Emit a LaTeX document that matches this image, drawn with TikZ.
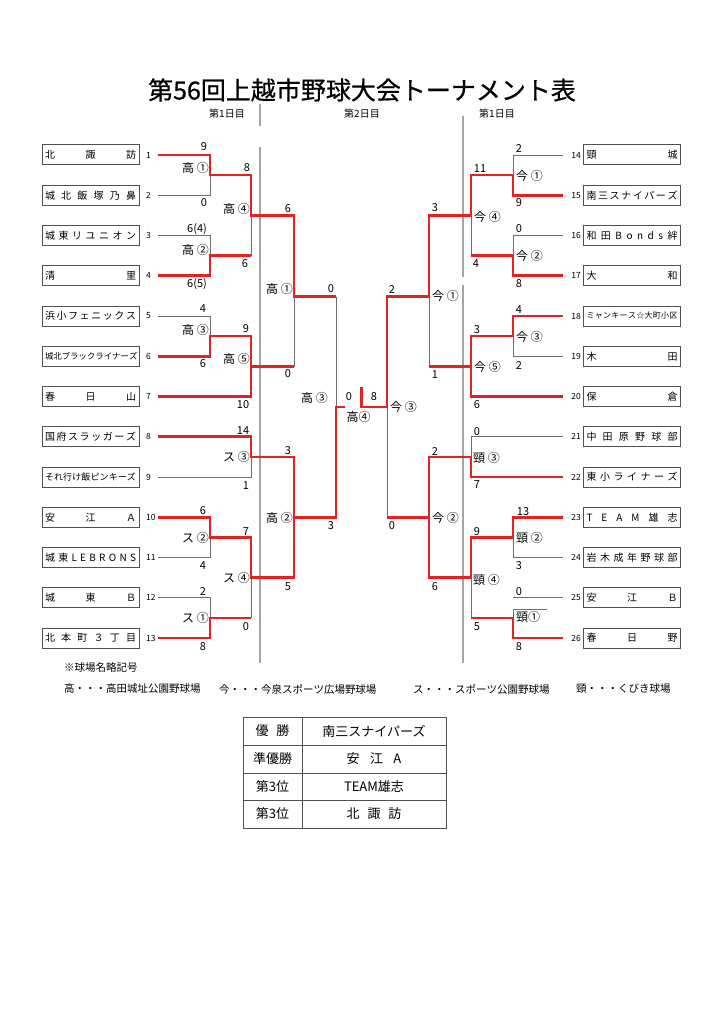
\documentclass[tikz,border=0pt]{standalone}
\usepackage{fontspec}
\setmainfont{Noto Sans CJK JP}
\newfontfamily\titlefont{Noto Sans CJK JP}[FakeBold=0.6]
\usetikzlibrary{positioning}

\definecolor{bracketred}{RGB}{225,35,35}
\definecolor{linegray}{RGB}{110,110,110}
\definecolor{boxgray}{RGB}{80,80,80}
\definecolor{divgray}{RGB}{165,165,165}

% spread the characters of a team name over the box
\makeatletter
\newcommand\spreadname[2][91pt]{\hbox to #1{\@tfor\nmchar:=#2\do{\nmchar\hfill}\unskip}}
\makeatother

\tikzset{
  win/.style={draw=bracketred, line width=2.6pt},
  lose/.style={draw=linegray, line width=0.9pt},
  divider/.style={draw=divgray, line width=1.3pt},
  team/.style={draw=boxgray, fill=white, line width=1pt, minimum width=97pt, minimum height=20pt, inner sep=0pt, font=\fontsize{10}{12}\selectfont},
  seedno/.style={inner sep=0pt, font=\fontsize{8.5}{9}\selectfont},
  score/.style={inner sep=0pt, font=\fontsize{11}{12}\selectfont},
  venue/.style={inner sep=0pt, font=\fontsize{12}{13}\selectfont},
  keytext/.style={inner sep=0pt, anchor=west, font=\fontsize{10.5}{12}\selectfont},
  cell/.style={inner sep=0pt, font=\fontsize{13}{15}\selectfont},
}

\begin{document}
\begin{tikzpicture}[x=1pt,y=-1pt]
\path[fill=white,use as bounding box] (0,0) rectangle (724,1024);

% title and day headers
\node (title) at (362,90) {\titlefont\fontsize{25}{30}\selectfont 第56回上越市野球大会トーナメント表};
\node[inner sep=0pt, font=\fontsize{10}{12}\selectfont] (dayL) at (227,114) {第1日目};
\node[inner sep=0pt, font=\fontsize{10}{12}\selectfont] (dayC) at (362,114) {第2日目};
\node[inner sep=0pt, font=\fontsize{10}{12}\selectfont] (dayR) at (497,114) {第1日目};
\draw[divider] (260,104) -- (260,126);
\draw[divider] (260,147) -- (260,663);
\draw[divider] (463,116) -- (463,277);
\draw[divider] (463,285) -- (463,663);

% teams, left
\node[team] (t1) at (90.5,155) {\spreadname{北諏訪}};
\node[team] (t2) at (90.5,195.25) {\spreadname{城北飯塚乃鼻}};
\node[team] (t3) at (90.5,235.5) {\spreadname{城東リユニオン}};
\node[team] (t4) at (90.5,275.75) {\spreadname{清里}};
\node[team] (t5) at (90.5,316) {\spreadname{浜小フェニックス}};
\node[team, font=\fontsize{8.4}{10}\selectfont] (t6) at (90.5,356.25) {\spreadname{城北ブラックライナーズ}};
\node[team] (t7) at (90.5,396.5) {\spreadname{春日山}};
\node[team] (t8) at (90.5,436.75) {\spreadname{国府スラッガーズ}};
\node[team, font=\fontsize{9}{10}\selectfont] (t9) at (90.5,477) {\spreadname{それ行け飯ピンキーズ}};
\node[team] (t10) at (90.5,517.25) {\spreadname{安江Ａ}};
\node[team] (t11) at (90.5,557.5) {\spreadname{城東LEBRONS}};
\node[team] (t12) at (90.5,597.75) {\spreadname{城東Ｂ}};
\node[team] (t13) at (90.5,638) {\spreadname{北本町３丁目}};

% teams, right
\node[team] (t14) at (632,155) {\spreadname{頸城}};
\node[team] (t15) at (632,195.25) {\spreadname{南三スナイパーズ}};
\node[team] (t16) at (632,235.5) {\spreadname{和田Bonds絆}};
\node[team] (t17) at (632,275.75) {\spreadname{大和}};
\node[team, font=\fontsize{8}{9}\selectfont] (t18) at (632,316) {\spreadname{ミャンキース☆大町小区}};
\node[team] (t19) at (632,356.25) {\spreadname{木田}};
\node[team] (t20) at (632,396.5) {\spreadname{保倉}};
\node[team] (t21) at (632,436.75) {\spreadname{中田原野球部}};
\node[team] (t22) at (632,477) {\spreadname{東小ライナーズ}};
\node[team] (t23) at (632,517.25) {\spreadname{TEAM雄志}};
\node[team] (t24) at (632,557.5) {\spreadname{岩木成年野球部}};
\node[team] (t25) at (632,597.75) {\spreadname{安江Ｂ}};
\node[team] (t26) at (632,638) {\spreadname{春日野}};

% draw numbers
\node[seedno, anchor=west] (n1) at (146,155) {1};
\node[seedno, anchor=west] (n2) at (146,195.25) {2};
\node[seedno, anchor=west] (n3) at (146,235.5) {3};
\node[seedno, anchor=west] (n4) at (146,275.75) {4};
\node[seedno, anchor=west] (n5) at (146,316) {5};
\node[seedno, anchor=west] (n6) at (146,356.25) {6};
\node[seedno, anchor=west] (n7) at (146,396.5) {7};
\node[seedno, anchor=west] (n8) at (146,436.75) {8};
\node[seedno, anchor=west] (n9) at (146,477) {9};
\node[seedno, anchor=west] (n10) at (146,517.25) {10};
\node[seedno, anchor=west] (n11) at (146,557.5) {11};
\node[seedno, anchor=west] (n12) at (146,597.75) {12};
\node[seedno, anchor=west] (n13) at (146,638) {13};
\node[seedno, anchor=east] (n14) at (581,155) {14};
\node[seedno, anchor=east] (n15) at (581,195.25) {15};
\node[seedno, anchor=east] (n16) at (581,235.5) {16};
\node[seedno, anchor=east] (n17) at (581,275.75) {17};
\node[seedno, anchor=east] (n18) at (581,316) {18};
\node[seedno, anchor=east] (n19) at (581,356.25) {19};
\node[seedno, anchor=east] (n20) at (581,396.5) {20};
\node[seedno, anchor=east] (n21) at (581,436.75) {21};
\node[seedno, anchor=east] (n22) at (581,477) {22};
\node[seedno, anchor=east] (n23) at (581,517.25) {23};
\node[seedno, anchor=east] (n24) at (581,557.5) {24};
\node[seedno, anchor=east] (n25) at (581,597.75) {25};
\node[seedno, anchor=east] (n26) at (581,638) {26};

% line ends at the teams
\coordinate (e1) at (158,155);
\coordinate (e2) at (158,195.25);
\coordinate (e3) at (158,235.5);
\coordinate (e4) at (158,275.75);
\coordinate (e5) at (158,316);
\coordinate (e6) at (158,356.25);
\coordinate (e7) at (158,396.5);
\coordinate (e8) at (158,436.75);
\coordinate (e9) at (158,477);
\coordinate (e10) at (158,517.25);
\coordinate (e11) at (158,557.5);
\coordinate (e12) at (158,597.75);
\coordinate (e13) at (158,638);
\coordinate (e14) at (563,155);
\coordinate (e15) at (563,195.25);
\coordinate (e16) at (563,235.5);
\coordinate (e17) at (563,275.75);
\coordinate (e18) at (563,316);
\coordinate (e19) at (563,356.25);
\coordinate (e20) at (563,396.5);
\coordinate (e21) at (563,436.75);
\coordinate (e22) at (563,477);
\coordinate (e23) at (563,517.25);
\coordinate (e24) at (563,557.5);
\coordinate (e25) at (563,597.75);
\coordinate (e26) at (563,638);

% match joints
\coordinate (j1) at (210,175.1);
\coordinate (j2) at (210,255.6);
\coordinate (j3) at (210,336.1);
\coordinate (j4) at (251,215.4);
\coordinate (j5) at (251,366.5);
\coordinate (j6) at (251,456.9);
\coordinate (j7) at (210,537.4);
\coordinate (j8) at (210,617.9);
\coordinate (j9) at (251,577.6);
\coordinate (j10) at (294,296.5);
\coordinate (j11) at (294,517.6);
\coordinate (j12) at (336,406.8);
\coordinate (fl) at (345,406.8);
\coordinate (k1) at (513,175.1);
\coordinate (k2) at (513,255.6);
\coordinate (k3) at (513,336.1);
\coordinate (k4) at (471,215.4);
\coordinate (k5) at (471,366.5);
\coordinate (k6) at (471,456.9);
\coordinate (k7) at (513,537.4);
\coordinate (k8) at (513,617.9);
\coordinate (k8t) at (513,609);
\coordinate (k8s) at (547,609);
\coordinate (k9) at (471,577.6);
\coordinate (k10) at (429,296.5);
\coordinate (k11) at (429,517.6);
\coordinate (k12) at (387,406.8);
\coordinate (fr) at (361.5,406.8);
\coordinate (ct) at (361.5,387);

% lost lines
\draw[lose] (e2) -| (j1);
\draw[lose] (e3) -| (j2);
\draw[lose] (e5) -| (j3);
\draw[lose] (e9) -| (j6);
\draw[lose] (e11) -| (j7);
\draw[lose] (e12) -| (j8);
\draw[lose] (j2 -| j4) -- (j4);
\draw[lose] (j8 -| j9) -- (j9);
\draw[lose] (j5 -| j10) -- (j10);
\draw[lose] (j10 -| j12) -- (j12);
\draw[lose] (e14) -| (k1);
\draw[lose] (e16) -| (k2);
\draw[lose] (e19) -| (k3);
\draw[lose] (e21) -| (k6);
\draw[lose] (e24) -| (k7);
\draw[lose] (e25) -- (e25 -| k8);
\draw[lose] (k8s) -- (k8t) -- (k8);
\draw[lose] (k2 -| k4) -- (k4);
\draw[lose] (k8 -| k9) -- (k9);
\draw[lose] (k5 -| k10) -- (k10);
\draw[lose] (k11 -| k12) -- (k12);

% winning lines
\draw[win] (e1) -| (j1) -| (j4) -| (j10) -- (j10 -| j12);
\draw[win] (e4) -| (j2) -- (j2 -| j4);
\draw[win] (e6) -| (j3) -| (j5);
\draw[win] (e7) -| (j5) -- (j5 -| j10);
\draw[win] (e8) -| (j6) -| (j11);
\draw[win] (e13) -| (j8) -- (j8 -| j9);
\draw[win] (e10) -| (j7) -| (j9) -| (j11) -| (j12) -- (fl);
\draw[win] (e17) -| (k2) -- (k2 -| k4);
\draw[win] (e18) -| (k3) -| (k5);
\draw[win] (e20) -| (k5) -- (k5 -| k10);
\draw[win] (e22) -| (k6) -| (k11);
\draw[win] (e26) -| (k8) -- (k8 -| k9);
\draw[win] (e23) -| (k7) -| (k9) -| (k11) -- (k11 -| k12);
\draw[win] (e15) -| (k1) -| (k4) -| (k10) -| (k12) -- (fr) -- (ct);

% venues
\node[venue, anchor=east] (m1) at (209,168) {高 ①};
\node[venue, anchor=east] (m2) at (209,250) {高 ②};
\node[venue, anchor=east] (m3) at (209,330) {高 ③};
\node[venue, anchor=east] (m4) at (250,209) {高 ④};
\node[venue, anchor=east] (m5) at (250,359) {高 ⑤};
\node[venue, anchor=east] (m6) at (250,457) {ス ③};
\node[venue, anchor=east] (m7) at (209,538) {ス ②};
\node[venue, anchor=east] (m8) at (209,618) {ス ①};
\node[venue, anchor=east] (m9) at (250,578) {ス ④};
\node[venue, anchor=east] (m10) at (293,289) {高 ①};
\node[venue, anchor=east] (m11) at (293,518) {高 ②};
\node[venue, anchor=east] (m12) at (328,398) {高 ③};
\node[venue] (mf) at (358.5,417) {高④};
\node[venue, anchor=west] (p1) at (516,176) {今 ①};
\node[venue, anchor=west] (p2) at (516,256) {今 ②};
\node[venue, anchor=west] (p3) at (516,337) {今 ③};
\node[venue, anchor=west] (p4) at (474,217) {今 ④};
\node[venue, anchor=west] (p5) at (474,367) {今 ⑤};
\node[venue, anchor=west] (p6) at (473,458) {頸 ③};
\node[venue, anchor=west] (p7) at (516,538) {頸 ②};
\node[venue, anchor=west] (p8) at (516,617) {頸①};
\node[venue, anchor=west] (p9) at (473,580) {頸 ④};
\node[venue, anchor=west] (p10) at (432,296) {今 ①};
\node[venue, anchor=west] (p11) at (432,518) {今 ②};
\node[venue, anchor=west] (p12) at (390,407) {今 ③};

% scores, left
\node[score] (s1) at (204,147) {9};
\node[score] (s2) at (204,203) {0};
\node[score] (s3) at (197,229) {6(4)};
\node[score] (s4) at (197,284) {6(5)};
\node[score] (s5) at (203,309) {4};
\node[score] (s6) at (203,364) {6};
\node[score] (s7) at (247,168) {8};
\node[score] (s8) at (245,264) {6};
\node[score] (s9) at (246,329) {9};
\node[score] (s10) at (243,405) {10};
\node[score] (s11) at (288,209) {6};
\node[score] (s12) at (288,374) {0};
\node[score] (s13) at (331,289) {0};
\node[score] (s14) at (243,431) {14};
\node[score] (s15) at (246,486) {1};
\node[score] (s16) at (203,511) {6};
\node[score] (s17) at (203,566) {4};
\node[score] (s18) at (203,592) {2};
\node[score] (s19) at (203,647) {8};
\node[score] (s20) at (246,532) {7};
\node[score] (s21) at (246,627) {0};
\node[score] (s22) at (288,451) {3};
\node[score] (s23) at (288,587) {5};
\node[score] (s24) at (331,526) {3};
\node[score] (s25) at (349,397) {0};
\node[score] (s26) at (374,397) {8};

% scores, right
\node[score] (s27) at (519,149) {2};
\node[score] (s28) at (519,203) {9};
\node[score] (s29) at (519,229) {0};
\node[score] (s30) at (519,284) {8};
\node[score] (s31) at (480,169) {11};
\node[score] (s32) at (476,264) {4};
\node[score] (s33) at (435,208) {3};
\node[score] (s34) at (392,290) {2};
\node[score] (s35) at (519,310) {4};
\node[score] (s36) at (519,366) {2};
\node[score] (s37) at (477,330) {3};
\node[score] (s38) at (477,405) {6};
\node[score] (s39) at (435,375) {1};
\node[score] (s40) at (477,432) {0};
\node[score] (s41) at (477,485) {7};
\node[score] (s42) at (435,452) {2};
\node[score] (s43) at (392,526) {0};
\node[score] (s44) at (523,512) {13};
\node[score] (s45) at (519,566) {3};
\node[score] (s46) at (519,592) {0};
\node[score] (s47) at (519,647) {8};
\node[score] (s48) at (477,532) {9};
\node[score] (s49) at (477,627) {5};
\node[score] (s50) at (435,587) {6};

% ground names
\node[keytext] (key) at (64,668) {※球場名略記号};
\node[keytext] (key1) at (64,689) {高・・・高田城址公園野球場};
\node[keytext] (key2) at (219,689) {今・・・今泉スポーツ広場野球場};
\node[keytext] (key3) at (413,689) {ス・・・スポーツ公園野球場};
\node[keytext] (key4) at (576,689) {頸・・・くびき球場};

% result table
\draw[boxgray, line width=0.9pt] (243,717) rectangle (446,828);
\draw[boxgray, line width=0.9pt] (302,717) -- (302,828);
\draw[boxgray, line width=0.9pt] (243,745) -- (446,745);
\draw[boxgray, line width=0.9pt] (243,773) -- (446,773);
\draw[boxgray, line width=0.9pt] (243,800) -- (446,800);
\node[cell] (r1a) at (272.5,731) {優\hspace{0.6em}勝};
\node[cell] (r1b) at (374,731) {南三スナイパーズ};
\node[cell] (r2a) at (272.5,759) {準優勝};
\node[cell] (r2b) at (374,759) {安\hspace{0.8em}江\hspace{0.8em}A};
\node[cell] (r3a) at (272.5,786.5) {第3位};
\node[cell] (r3b) at (374,786.5) {TEAM雄志};
\node[cell] (r4a) at (272.5,814) {第3位};
\node[cell] (r4b) at (374,814) {北\hspace{0.6em}諏\hspace{0.6em}訪};
\end{tikzpicture}
\end{document}
